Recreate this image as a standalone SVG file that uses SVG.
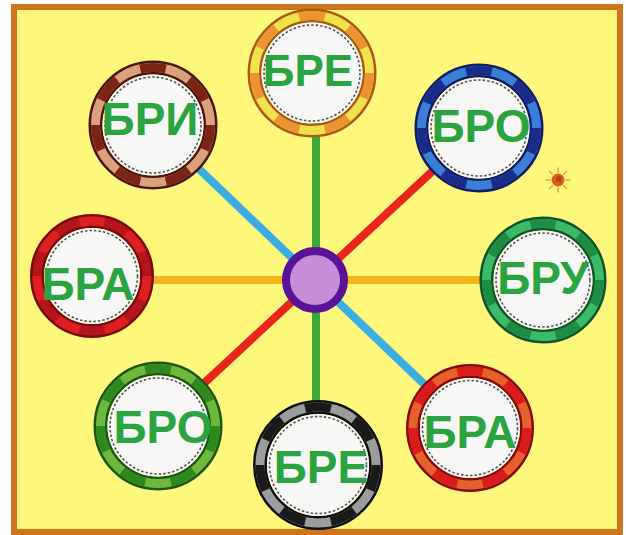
<svg xmlns="http://www.w3.org/2000/svg" width="626" height="535" viewBox="0 0 626 535">
<defs>
<style>
.lbl{font-family:"Liberation Sans",Arial,sans-serif;font-weight:bold;font-size:46px;fill:#2BA33F;text-anchor:middle}
.out{fill:none;stroke-width:14}
.bandA{fill:none;stroke-width:9}
.bandB{fill:none;stroke-width:9;stroke-dasharray:1 1}
.face{fill:#F7F7F5}
.dots{fill:none;stroke:#555;stroke-width:1.6;stroke-dasharray:2.5 2}
.conn{stroke-width:8;stroke-linecap:butt}
</style>
</defs>
<rect x="0" y="0" width="626" height="535" fill="#FFFFFF"/>
<rect x="14" y="7" width="606" height="525" fill="#FEF77C" stroke="#D0741E" stroke-width="6"/>
<g id="connectors">
<line class="conn" x1="316" y1="120" x2="316" y2="420" stroke="#3BA83A"/>
<line class="conn" x1="153" y1="125" x2="470" y2="428" stroke="#39AEE3"/>
<line class="conn" x1="479" y1="128" x2="158" y2="426" stroke="#E8241D"/>
<line class="conn" x1="92" y1="280" x2="543" y2="280" stroke="#F3B51A"/>
</g>
<g id="hub">
<circle cx="315" cy="280" r="29" fill="#C78DD8" stroke="#5A1398" stroke-width="8"/>
</g>
<g id="n-bre-top" transform="translate(312,73)">
<circle class="out" r="57.5" stroke="#A95A18"/>
<circle class="bandA" r="57.5" stroke="#F1E24C"/>
<circle class="bandB" r="57.5" stroke="#EC9230" pathLength="14"/>
<circle class="face" r="50.5"/>
<circle class="dots" r="48"/>
<text class="lbl" x="-4" y="13" style="font-size:44px">БРЕ</text>
</g>
<g id="n-bri" transform="translate(153,125)">
<circle class="out" r="57.5" stroke="#4E1510"/>
<circle class="bandA" r="57.5" stroke="#D9A17C"/>
<circle class="bandB" r="57.5" stroke="#7A2316" pathLength="14"/>
<circle class="face" r="50.5"/>
<circle class="dots" r="48"/>
<text class="lbl" x="-3" y="10">БРИ</text>
</g>
<g id="n-bro-tr" transform="translate(479,128)">
<circle class="out" r="57.5" stroke="#121D66"/>
<circle class="bandA" r="57.5" stroke="#3B7ED8"/>
<circle class="bandB" r="57.5" stroke="#1B2B88" pathLength="14"/>
<circle class="face" r="50.5"/>
<circle class="dots" r="48"/>
<text class="lbl" x="2" y="14">БРО</text>
</g>
<g id="n-bra-l" transform="translate(92,276)">
<circle class="out" r="55" stroke="#7A0C0C"/>
<circle class="bandA" r="55" stroke="#B5151A"/>
<circle class="bandB" r="55" stroke="#DC2020" pathLength="14"/>
<circle class="face" r="48"/>
<circle class="dots" r="45.5"/>
<text class="lbl" x="-4" y="24">БРА</text>
</g>
<g id="n-bru" transform="translate(543,280)">
<circle class="out" r="56.5" stroke="#0D5628"/>
<circle class="bandA" r="56.5" stroke="#3DB96A"/>
<circle class="bandB" r="56.5" stroke="#1E8B46" pathLength="14"/>
<circle class="face" r="49.5"/>
<circle class="dots" r="47"/>
<text class="lbl" x="0" y="14">БРУ</text>
</g>
<g id="n-bro-bl" transform="translate(158,426)">
<circle class="out" r="57.5" stroke="#1C5610"/>
<circle class="bandA" r="57.5" stroke="#6CB93B"/>
<circle class="bandB" r="57.5" stroke="#2E8A1F" pathLength="14"/>
<circle class="face" r="50.5"/>
<circle class="dots" r="48"/>
<text class="lbl" x="5" y="17">БРО</text>
</g>
<g id="n-bre-bot" transform="translate(318,465)">
<circle class="out" r="58" stroke="#101010"/>
<circle class="bandA" r="58" stroke="#9C9C9C"/>
<circle class="bandB" r="58" stroke="#1A1A1A" pathLength="14"/>
<circle class="face" r="51"/>
<circle class="dots" r="48.5"/>
<text class="lbl" x="3" y="18">БРЕ</text>
</g>
<g id="n-bra-br" transform="translate(470,428)">
<circle class="out" r="57" stroke="#860A0A"/>
<circle class="bandA" r="57" stroke="#E6602B"/>
<circle class="bandB" r="57" stroke="#D91B1B" pathLength="14"/>
<circle class="face" r="50"/>
<circle class="dots" r="47.5"/>
<text class="lbl" x="0" y="20">БРА</text>
</g>
<g id="sun" transform="translate(558,180)">
<g stroke="#F0A030" stroke-width="1.5" stroke-linecap="round">
<line x1="0" y1="-8" x2="0" y2="-12"/>
<line x1="0" y1="8" x2="0" y2="12"/>
<line x1="-8" y1="0" x2="-12" y2="0"/>
<line x1="8" y1="0" x2="12" y2="0"/>
<line x1="5.7" y1="5.7" x2="8.5" y2="8.5"/>
<line x1="-5.7" y1="5.7" x2="-8.5" y2="8.5"/>
<line x1="5.7" y1="-5.7" x2="8.5" y2="-8.5"/>
<line x1="-5.7" y1="-5.7" x2="-8.5" y2="-8.5"/>
</g>
<circle r="6.5" fill="#E0601A"/>
<circle cx="1" cy="-1" r="3" fill="#B8401A"/>
</g>
</svg>
